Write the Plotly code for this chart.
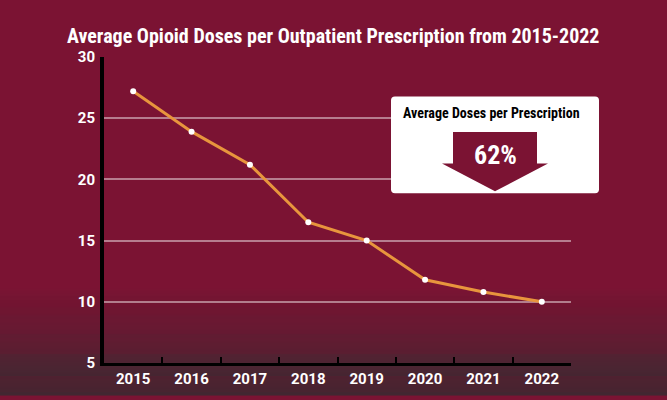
import plotly.graph_objects as go

years = ["2015", "2016", "2017", "2018", "2019", "2020", "2021", "2022"]
avg_doses = [27.2, 23.9, 21.2, 16.5, 15.0, 11.8, 10.8, 10.0]
y_ticks = [5, 10, 15, 20, 25, 30]
title_text = "Average Opioid Doses per Outpatient Prescription from 2015-2022"
box_title = "Average Doses per Prescription"
box_value = "62%"

W, H = 667, 400
L, R, T, B = 104, 96, 57, 33
PW, PH = W - L - R, H - T - B

def px(x):
    return (x - L) / PW

def py(y):
    return (H - B - y) / PH

MAROON = "#7B1333"
DARK = (58, 43, 50)
TOP = (123, 19, 51)

shapes = []
g0, g1 = 290, 400
for yy in range(g0, g1):
    t = (yy - g0 + 0.5) / (g1 - g0)
    c = tuple(round(TOP[i] + (DARK[i] - TOP[i]) * t) for i in range(3))
    shapes.append(dict(type="rect", xref="paper", yref="paper", layer="below",
                       x0=px(-2), x1=px(W + 2), y0=py(yy + 1.05), y1=py(yy),
                       fillcolor="rgb(%d,%d,%d)" % c, line=dict(width=0)))

bx0, bx1, by0, by1, r = 391, 599, 97, 195, 4
path = (f"M {px(bx0+r)} {py(by0)} L {px(bx1-r)} {py(by0)} "
        f"Q {px(bx1)} {py(by0)} {px(bx1)} {py(by0+r)} L {px(bx1)} {py(by1-r)} "
        f"Q {px(bx1)} {py(by1)} {px(bx1-r)} {py(by1)} L {px(bx0+r)} {py(by1)} "
        f"Q {px(bx0)} {py(by1)} {px(bx0)} {py(by1-r)} L {px(bx0)} {py(by0+r)} "
        f"Q {px(bx0)} {py(by0)} {px(bx0+r)} {py(by0)} Z")
shapes.append(dict(type="path", xref="paper", yref="paper", path=path,
                   fillcolor="white", line=dict(width=0), layer="above"))
arrow_pts = [(453, 133), (537, 133), (537, 165), (548, 165), (495, 193), (442, 165), (453, 165)]
apath = "M " + " L ".join(f"{px(x)} {py(y)}" for x, y in arrow_pts) + " Z"
shapes.append(dict(type="path", xref="paper", yref="paper", path=apath,
                   fillcolor=MAROON, line=dict(width=0), layer="above"))

fig = go.Figure()
fig.add_trace(go.Scatter(
    x=years, y=avg_doses, mode="lines+markers",
    line=dict(color="#E8953D", width=3),
    marker=dict(color="white", size=6),
    hoverinfo="x+y", cliponaxis=False,
))

tick_font = dict(family="Roboto", size=15, color="white", weight="bold")
narrow = "Roboto Condensed, DejaVu Sans Condensed, sans-serif"

fig.update_layout(
    width=W, height=H,
    margin=dict(l=L, r=R, t=T, b=B),
    paper_bgcolor=MAROON, plot_bgcolor="rgba(0,0,0,0)",
    showlegend=False,
    shapes=shapes,
    xaxis=dict(type="category", range=[-0.5, 7.5], showgrid=False,
               showline=True, linecolor="black", linewidth=3,
               ticks="inside", tickson="boundaries", ticklen=6, tickwidth=2,
               tickcolor="black", tickfont=tick_font, fixedrange=True),
    yaxis=dict(range=[5, 30], tickvals=y_ticks, showgrid=True,
               gridcolor="rgba(255,255,255,0.45)", gridwidth=1.5,
               zeroline=False, showline=True, linecolor="black", linewidth=4,
               ticks="", ticklabelstandoff=2, tickfont=tick_font, fixedrange=True),
    annotations=[
        dict(text=title_text, xref="paper", yref="paper", x=px(333), y=py(36),
             xanchor="center", yanchor="middle", showarrow=False,
             font=dict(family=narrow, size=20, color="white", weight="bold")),
        dict(text=box_title, xref="paper", yref="paper", x=px(491), y=py(114),
             xanchor="center", yanchor="middle", showarrow=False,
             font=dict(family=narrow, size=14, color="black", weight="bold")),
        dict(text=box_value, xref="paper", yref="paper", x=px(495), y=py(156),
             xanchor="center", yanchor="middle", showarrow=False,
             font=dict(family=narrow, size=26, color="white", weight="bold")),
    ],
)

fig.write_html("out.html")
